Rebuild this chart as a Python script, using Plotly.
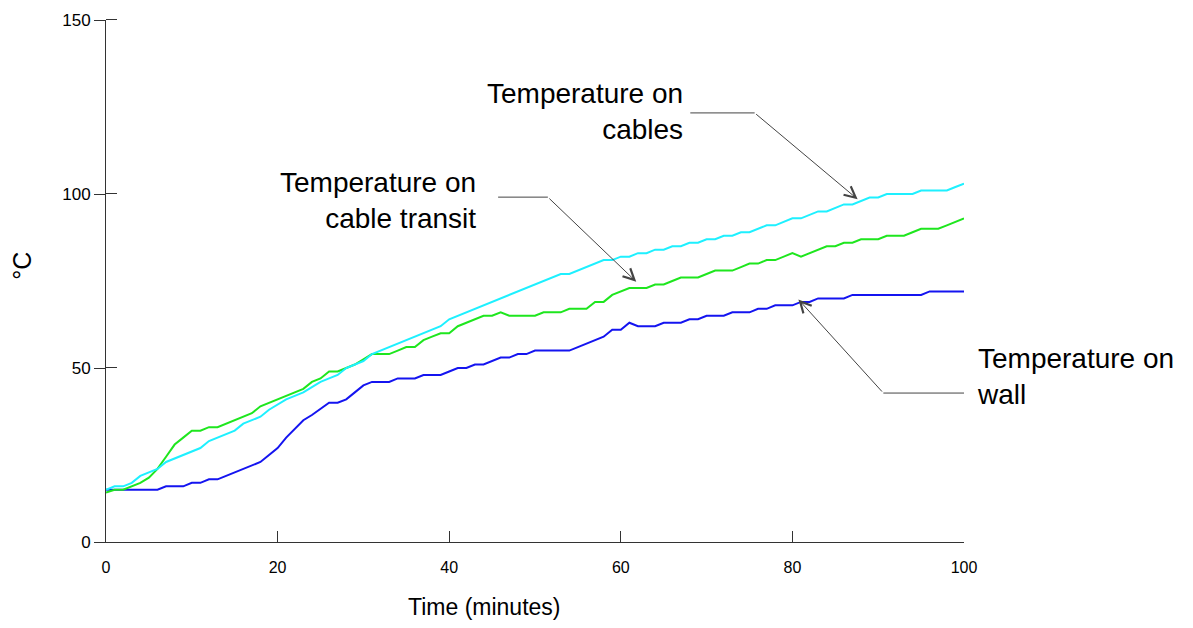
import plotly.graph_objects as go

# ---- data ----
time_min = list(range(0, 101))

temp_wall = [15, 15, 15, 15, 15, 15, 15, 16, 16, 16,
             17, 17, 18, 18, 19, 20, 21, 22, 23, 25,
             27, 30, 32.5, 35, 36.5, 38.3, 40, 40, 41, 43,
             45, 46, 46, 46, 47, 47, 47, 48, 48, 48,
             49, 50, 50, 51, 51, 52, 53, 53, 54, 54,
             55, 55, 55, 55, 55, 56, 57, 58, 59, 61,
             61, 63, 62, 62, 62, 63, 63, 63, 64, 64,
             65, 65, 65, 66, 66, 66, 67, 67, 68, 68,
             68, 69, 69, 70, 70, 70, 70, 71, 71, 71,
             71, 71, 71, 71, 71, 71, 72, 72, 72, 72,
             72]

temp_transit = [14.2, 15, 15, 16, 17, 18.5, 21, 24.5, 28, 30,
                32, 32, 33, 33, 34, 35, 36, 37, 39, 40,
                41, 42, 43, 44, 46, 47, 49, 49, 50, 51,
                52.5, 54, 54, 54, 55, 56, 56, 58, 59, 60,
                60, 62, 63, 64, 65, 65, 66, 65, 65, 65,
                65, 66, 66, 66, 67, 67, 67, 69, 69, 71,
                72, 73, 73, 73, 74, 74, 75, 76, 76, 76,
                77, 78, 78, 78, 79, 80, 80, 81, 81, 82,
                83, 82, 83, 84, 85, 85, 86, 86, 87, 87,
                87, 88, 88, 88, 89, 90, 90, 90, 91, 92,
                93]

temp_cables = [15, 16, 16, 17, 19, 20, 21, 23, 24, 25,
               26, 27, 29, 30, 31, 32, 34, 35, 36, 38,
               39.5, 41, 42, 43, 44.5, 46, 47, 48, 50, 51,
               52, 54, 55, 56, 57, 58, 59, 60, 61, 62,
               64, 65, 66, 67, 68, 69, 70, 71, 72, 73,
               74, 75, 76, 77, 77, 78, 79, 80, 81, 81,
               82, 82, 83, 83, 84, 84, 85, 85, 86, 86,
               87, 87, 88, 88, 89, 89, 90, 91, 91, 92,
               93, 93, 94, 95, 95, 96, 97, 97, 98, 99,
               99, 100, 100, 100, 100, 101, 101, 101, 101, 102,
               103]

x_ticks = [0, 20, 40, 60, 80, 100]
y_ticks = [0, 50, 100, 150]

FONT = "Liberation Sans, Arial, sans-serif"
AXC = "#333333"

fig = go.Figure()
fig.add_trace(go.Scatter(x=time_min, y=temp_wall, mode="lines",
                         line=dict(color="#1414f0", width=2), name="Temperature on wall"))
fig.add_trace(go.Scatter(x=time_min, y=temp_transit, mode="lines",
                         line=dict(color="#1ee61e", width=2), name="Temperature on cable transit"))
fig.add_trace(go.Scatter(x=time_min, y=temp_cables, mode="lines",
                         line=dict(color="#1ef0ff", width=2), name="Temperature on cables"))

# inside half of the crossing y ticks, drawn as minor ticks (nudged off the major values)
y_inside_ticks = [v + 0.01 for v in y_ticks[1:]]

# figure sized to fit inside the page's 8px body margin
fig.update_layout(
    width=1177, height=612,
    margin=dict(l=98, r=221, t=12, b=78, autoexpand=False),
    paper_bgcolor="white", plot_bgcolor="white",
    showlegend=False,
    font=dict(family=FONT, color="black", size=16),
    xaxis=dict(range=[0, 100], tickvals=x_ticks, ticks="inside", ticklen=11,
               tickcolor=AXC, showline=True, linecolor=AXC, linewidth=1,
               showgrid=False, zeroline=False, ticklabelstandoff=11,
               tickfont=dict(size=16), automargin=False),
    yaxis=dict(range=[0, 150], tickvals=y_ticks, ticks="outside", ticklen=11,
               tickcolor=AXC, showline=True, linecolor=AXC, linewidth=1,
               showgrid=False, zeroline=False, ticklabelstandoff=0,
               tickfont=dict(size=17), automargin=False,
               minor=dict(tickvals=y_inside_ticks, ticks="inside", ticklen=11,
                          tickcolor=AXC, showgrid=False)),
)

# axis titles as annotations (positioned like the reference)
fig.add_annotation(text="Time (minutes)", xref="paper", yref="paper", x=0.4406, y=0,
                   yshift=-65, showarrow=False, font=dict(size=23), xanchor="center", yanchor="middle")
fig.add_annotation(text="°C", xref="paper", yref="paper", x=0, y=0.529, xshift=-84,
                   textangle=-90, showarrow=False, font=dict(size=25),
                   xanchor="center", yanchor="middle")

# callout labels
fig.add_annotation(text="Temperature on<br>cables", x=67.5, y=123.7, xref="x", yref="y",
                   xanchor="right", yanchor="middle", align="right",
                   showarrow=False, font=dict(size=28))
fig.add_annotation(text="Temperature on<br>cable transit", x=43.4, y=98.0, xref="x", yref="y",
                   xanchor="right", yanchor="middle", align="right",
                   showarrow=False, font=dict(size=28))
fig.add_annotation(text="Temperature on<br>wall", x=1.0128, y=47.6 / 150, xref="paper", yref="paper",
                   xanchor="left", yanchor="middle", align="left",
                   showarrow=False, font=dict(size=28))

# leader lines: horizontal stub + arrow to curve
leaders = [
    dict(x0=68.1, x1=75.6, y=123.3, tip=(87.6, 98.5)),
    dict(x0=45.7, x1=51.5, y=99.1, tip=(61.8, 74.8)),
    dict(x0=100.0, x1=90.6, y=42.8, tip=(80.7, 69.7)),
]
for ld in leaders:
    fig.add_shape(type="line", xref="x", yref="y", x0=ld["x0"], x1=ld["x1"],
                  y0=ld["y"], y1=ld["y"], line=dict(color="#444", width=1))
    fig.add_annotation(text="", x=ld["tip"][0], y=ld["tip"][1], xref="x", yref="y",
                       ax=ld["x1"], ay=ld["y"], axref="x", ayref="y",
                       showarrow=True, arrowhead=5, arrowsize=2.2, arrowwidth=1,
                       arrowcolor="#444", standoff=0, startstandoff=0)

fig.write_html("out.html")
